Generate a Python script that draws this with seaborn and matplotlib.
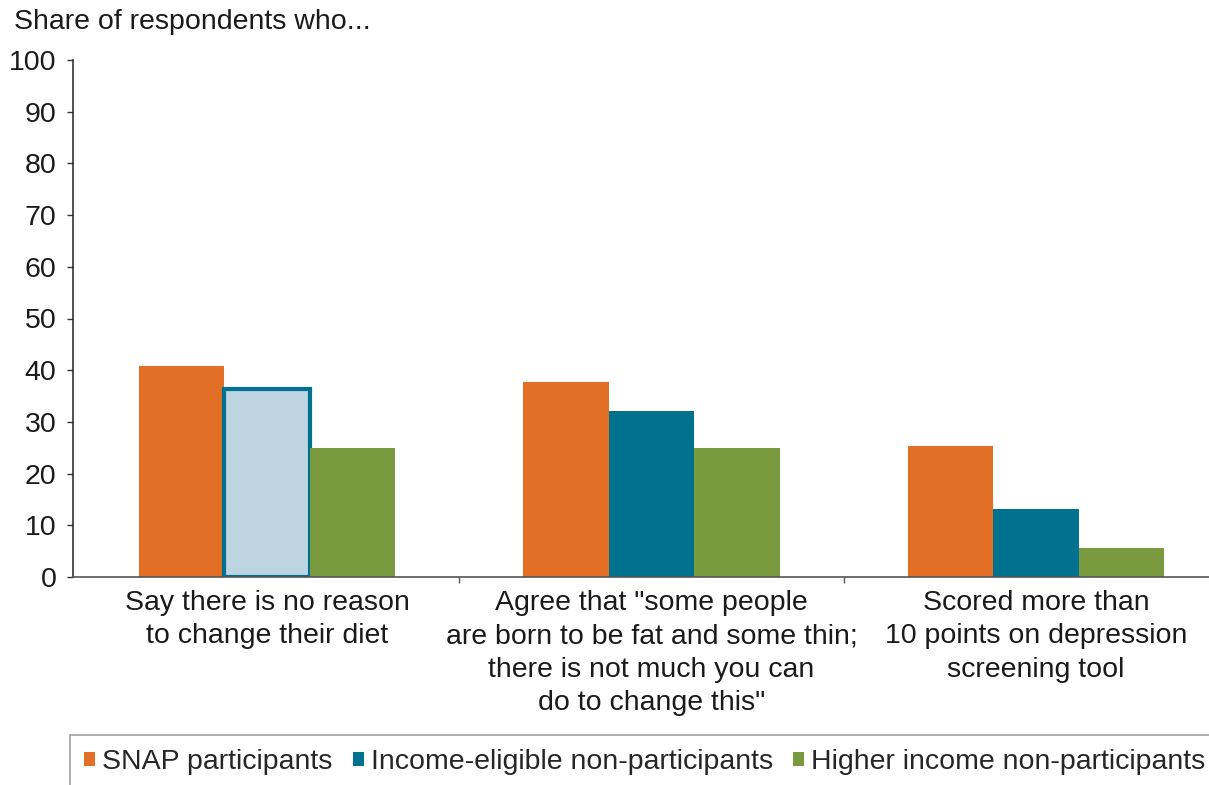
import matplotlib
matplotlib.use("Agg")
import matplotlib.pyplot as plt
from matplotlib.patches import Patch
from matplotlib.ticker import FixedLocator
import seaborn as sns
import pandas as pd

categories = [
    "Say there is no reason\nto change their diet",
    "Agree that \"some people\nare born to be fat and some thin;\nthere is not much you can\ndo to change this\"",
    "Scored more than\n10 points on depression\nscreening tool",
]
series = ["SNAP participants", "Income-eligible non-participants", "Higher income non-participants"]
snap = [40.8, 37.7, 25.4]
eligible = [36.4, 32.1, 13.1]
higher = [25.0, 25.0, 5.7]
yticks = [0, 10, 20, 30, 40, 50, 60, 70, 80, 90, 100]
title = "Share of respondents who..."

colors = ["#E36E25", "#00718F", "#7A9A40"]
light_blue = "#BDD4E1"

rows = []
for s, vals in zip(series, [snap, eligible, higher]):
    for c, v in zip(categories, vals):
        rows.append({"category": c, "series": s, "value": v})
df = pd.DataFrame(rows)

sns.set_style("white")
plt.rcParams["font.family"] = ["Liberation Sans", "DejaVu Sans"]

FS = 20.5

fig = plt.figure(figsize=(12.09, 7.85), dpi=100)
ax = fig.add_axes([73/1209, 1-577/785, 1-73/1209, (577-60)/785])

sns.barplot(data=df, x="category", y="value", hue="series", order=categories,
            hue_order=series, palette=colors, width=0.667, saturation=1,
            edgecolor="none", linewidth=0, legend=False, ax=ax)

# highlighted bar: income-eligible, first category
hb = ax.containers[1][0]
hb.set_facecolor(light_blue)
hb.set_edgecolor(colors[1])
hb.set_linewidth(3)

ax.set_xlim(-0.505, 2.45)
ax.set_ylim(0, 100)
ax.set_yticks(yticks)
ax.set_yticklabels([str(t) for t in yticks], fontsize=FS, color="#1a1a1a")
ax.set_xticks(range(3))
ax.set_xticklabels(categories, fontsize=FS, color="#1a1a1a", linespacing=1.38)
ax.tick_params(axis="x", which="major", length=0, pad=9)
ax.xaxis.set_minor_locator(FixedLocator([0.5, 1.5]))
ax.tick_params(axis="x", which="minor", length=4, width=1, color="#555555", direction="out", bottom=True)
ax.tick_params(axis="y", length=4, width=1, color="#333333", direction="out", left=True, pad=8)
ax.set_xlabel("")
ax.set_ylabel("")
for sp in ["top", "right"]:
    ax.spines[sp].set_visible(False)
ax.spines["left"].set_color("#333333")
ax.spines["bottom"].set_color("#555555")
ax.spines["left"].set_linewidth(1.2)
ax.spines["bottom"].set_linewidth(1.2)

fig.text(14/1209, 1-22/785, title, fontsize=FS, va="center", ha="left", color="#1a1a1a")

handles = [Patch(facecolor=c, edgecolor="none") for c in colors]
leg = fig.legend(handles, series, loc="upper left", bbox_to_anchor=(70/1209, 1-735/785),
                 ncol=3, fontsize=FS, frameon=True, fancybox=False,
                 handlelength=0.39, handleheight=0.39, handletextpad=0.25,
                 columnspacing=0.7, borderpad=0.5, borderaxespad=0)
leg.get_frame().set_edgecolor("#888888")
leg.get_frame().set_linewidth(1.2)

fig.savefig("out.png", dpi=100)
